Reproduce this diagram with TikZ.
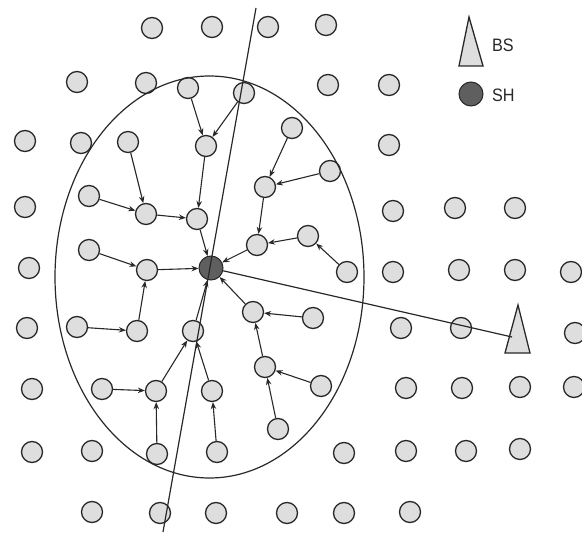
\documentclass[tikz,border=0pt]{standalone}
\usepackage{fontspec}
\setmainfont{Liberation Sans}
\usetikzlibrary{arrows.meta}
\definecolor{nodefill}{RGB}{222,222,222}
\definecolor{nodeline}{RGB}{40,40,40}
\definecolor{shfill}{RGB}{95,95,95}
\tikzset{
  x=1pt, y=-1pt,
  nd/.style={circle, draw=nodeline, fill=nodefill, line width=1.3pt, minimum size=21pt, inner sep=0pt},
  shnode/.style={circle, draw=nodeline, fill=shfill, line width=1pt, minimum size=24pt, inner sep=0pt},
  arr/.style={-{Stealth[length=7pt,width=5.5pt]}, line width=1.1pt, draw=nodeline},
  plain/.style={line width=1.2pt, draw=nodeline},
  lbl/.style={font=\fontsize{18}{18}\selectfont, text=nodeline, inner sep=0pt, anchor=west, xscale=0.9}
}
\begin{document}
\begin{tikzpicture}
\useasboundingbox (0,0) rectangle (582,535);
% row 1
\node[nd] (a1) at (152,28) {};
\node[nd] (a2) at (212,27) {};
\node[nd] (a3) at (268,27) {};
\node[nd] (a4) at (326,25) {};
% row 2
\node[nd] (b1) at (77,82) {};
\node[nd] (b2) at (146,83) {};
\node[nd] (b3) at (188,88) {};
\node[nd] (b4) at (244,93) {};
\node[nd] (b5) at (328,85) {};
\node[nd] (b6) at (389,85) {};
% row 3
\node[nd] (c1) at (25,141) {};
\node[nd] (c2) at (81,143) {};
\node[nd] (c3) at (128,142) {};
\node[nd] (c4) at (206,146) {};
\node[nd] (c5) at (292,128) {};
\node[nd] (c6) at (389,145) {};
% row 4
\node[nd] (d1) at (25,207) {};
\node[nd] (d2) at (89,196) {};
\node[nd] (d3) at (146,214) {};
\node[nd] (d4) at (197,219) {};
\node[nd] (d5) at (265,187) {};
\node[nd] (d6) at (330,171) {};
\node[nd] (d7) at (393,211) {};
\node[nd] (d8) at (455,208) {};
\node[nd] (d9) at (515,208) {};
% row 5
\node[nd] (e1) at (29,268) {};
\node[nd] (e2) at (89,250) {};
\node[nd] (e3) at (147,270) {};
\node[shnode] (sh) at (211,268) {};
\node[nd] (e5) at (257,245) {};
\node[nd] (e6) at (308,236) {};
\node[nd] (e7) at (347,272) {};
\node[nd] (e8) at (393,272) {};
\node[nd] (e9) at (459,270) {};
\node[nd] (e10) at (515,270) {};
\node[nd] (e11) at (571,272) {};
% row 6
\node[nd] (f1) at (27,328) {};
\node[nd] (f2) at (77,327) {};
\node[nd] (f3) at (137,331) {};
\node[nd] (f4) at (193,331) {};
\node[nd] (f5) at (253,312) {};
\node[nd] (f6) at (313,318) {};
\node[nd] (f7) at (401,328) {};
\node[nd] (f8) at (461,328) {};
\node[nd] (f9) at (575,333) {};
% row 7
\node[nd] (g1) at (32,389) {};
\node[nd] (g2) at (102,389) {};
\node[nd] (g3) at (156,391) {};
\node[nd] (g4) at (212,391) {};
\node[nd] (g5) at (265,367) {};
\node[nd] (g6) at (321,386) {};
\node[nd] (g7) at (406,388) {};
\node[nd] (g8) at (462,388) {};
\node[nd] (g9) at (520,387) {};
\node[nd] (g10) at (574,387) {};
% row 8
\node[nd] (h1) at (32,452) {};
\node[nd] (h2) at (92,451) {};
\node[nd] (h3) at (157,454) {};
\node[nd] (h4) at (217,452) {};
\node[nd] (h5) at (278,429) {};
\node[nd] (h6) at (344,453) {};
\node[nd] (h7) at (406,451) {};
\node[nd] (h8) at (466,451) {};
\node[nd] (h9) at (520,449) {};
% row 9
\node[nd] (i1) at (92,512) {};
\node[nd] (i2) at (160,513) {};
\node[nd] (i3) at (216,513) {};
\node[nd] (i4) at (287,513) {};
\node[nd] (i5) at (344,513) {};
\node[nd] (i6) at (410,512) {};

% cluster boundary
\draw[plain] (209.5,277) ellipse [x radius=154.5, y radius=201];

% base station
\draw[line width=1.3pt, draw=nodeline, fill=nodefill] (518,305) -- (530,353) -- (505,353) -- cycle;
\coordinate (bsend) at (512,337);

% arrows to cluster head
\draw[arr] (b3) -- (c4);
\draw[arr] (b4) -- (c4);
\draw[arr] (c4) -- (d4);
\draw[arr] (c3) -- (d3);
\draw[arr] (d2) -- (d3);
\draw[arr] (d3) -- (d4);
\draw[arr] (d4) -- (sh);
\draw[arr] (c5) -- (d5);
\draw[arr] (d6) -- (d5);
\draw[arr] (d5) -- (e5);
\draw[arr] (e6) -- (e5);
\draw[arr] (e7) -- (e6);
\draw[arr] (e5) -- (sh);
\draw[arr] (e2) -- (e3);
\draw[arr] (e3) -- (sh);
\draw[arr] (f2) -- (f3);
\draw[arr] (f3) -- (e3);
\draw[arr] (f4) -- (sh);
\draw[arr] (g4) -- (f4);
\draw[arr] (h4) -- (g4);
\draw[arr] (g3) -- (f4);
\draw[arr] (g2) -- (g3);
\draw[arr] (h3) -- (g3);
\draw[arr] (f5) -- (sh);
\draw[arr] (f6) -- (f5);
\draw[arr] (g5) -- (f5);
\draw[arr] (g6) -- (g5);
\draw[arr] (h5) -- (g5);

% SH to BS
\draw[plain] (sh) -- (bsend);

% dividing line
\coordinate (ltop) at (256,8);
\coordinate (lbot) at (163,532);
\draw[plain] (ltop) -- (lbot);

% legend
\draw[line width=1.3pt, draw=nodeline, fill=nodefill] (469,17) -- (483,66) -- (459,66) -- cycle;
\node[lbl] (bslbl) at (492,45) {BS};
\node[shnode] (shleg) at (471,94) {};
\node[lbl] (shlbl) at (492,95) {SH};
\end{tikzpicture}
\end{document}
